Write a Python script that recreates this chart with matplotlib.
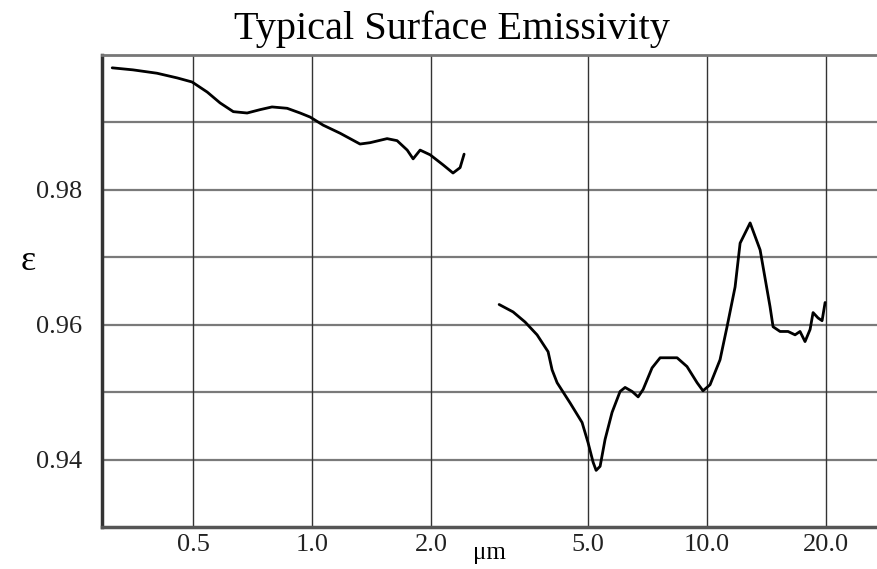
"""
Typical surface emissivity vs wavelength.
"""

import matplotlib.pyplot as plt
import numpy as np

# wavelength (um) and emissivity, short-wave segment
wl_short = [0.312, 0.352, 0.405, 0.456, 0.497, 0.543, 0.585, 0.632, 0.685, 0.739,
            0.792, 0.865, 0.933, 0.989, 1.067, 1.178, 1.323, 1.403, 1.549, 1.642,
            1.742, 1.803, 1.878, 1.991, 2.148, 2.275, 2.371, 2.427]
eps_short = [0.9981, 0.9978, 0.9973, 0.9966, 0.9960, 0.9945, 0.9929, 0.9916, 0.9914, 0.9919,
             0.9923, 0.9921, 0.9914, 0.9908, 0.9896, 0.9884, 0.9868, 0.9870, 0.9876, 0.9873,
             0.9859, 0.9846, 0.9859, 0.9852, 0.9837, 0.9825, 0.9833, 0.9853]

# long-wave segment
wl_long = [2.977, 3.229, 3.463, 3.714, 3.960, 4.054, 4.174, 4.502, 4.828, 5.0,
           5.149, 5.24, 5.363, 5.521, 5.75, 6.025, 6.204, 6.464, 6.694, 6.891,
           7.26, 7.61, 8.40, 8.90, 9.44, 9.77, 10.18, 10.79, 11.24, 11.78,
           12.13, 12.86, 13.63, 14.44, 14.70, 15.31, 16.04, 16.71, 17.20, 17.71,
           18.24, 18.56, 19.11, 19.56, 19.91]
eps_long = [0.9630, 0.9619, 0.9604, 0.9585, 0.9560, 0.9533, 0.9514, 0.9484, 0.9455, 0.9425,
            0.9396, 0.9384, 0.9390, 0.9430, 0.9470, 0.9501, 0.9507, 0.9501, 0.9493, 0.9504,
            0.9536, 0.9551, 0.9551, 0.9538, 0.9514, 0.9502, 0.9511, 0.9548, 0.9597, 0.9656,
            0.9721, 0.9751, 0.9711, 0.9627, 0.9597, 0.9590, 0.9590, 0.9585, 0.9590, 0.9575,
            0.9593, 0.9618, 0.9610, 0.9606, 0.9633]

x_ticks = [0.5, 1.0, 2.0, 5.0, 10.0, 20.0]
x_ticklabels = ["0.5", "1.0", "2.0", "5.0", "10.0", "20.0"]
y_grid = [0.94, 0.95, 0.96, 0.97, 0.98, 0.99]
y_labeled = [0.94, 0.96, 0.98]

plt.rcParams["font.family"] = ["Liberation Serif", "DejaVu Serif"]

fig = plt.figure(figsize=(8.78, 5.69), dpi=100)
ax = fig.add_axes([0.1162, 0.0738, 0.8838, 0.8295])

# grid
for yv in y_grid:
    ax.axhline(yv, color="#7a7a7a", lw=1.6, zorder=1)
for xv in x_ticks:
    ax.axvline(xv, color="#333333", lw=1.0, zorder=1)

# curves
for xs, ys in ((wl_short, eps_short), (wl_long, eps_long)):
    ax.plot(xs, ys, color="black", lw=2.0, zorder=3,
            solid_joinstyle="round", solid_capstyle="round")

ax.set_xscale("log")
ax.set_xlim(0.294, 27.1)
ax.set_ylim(0.93, 1.0)

ax.set_xticks(x_ticks)
ax.set_xticklabels(x_ticklabels)
ax.xaxis.set_minor_locator(plt.NullLocator())
ax.set_yticks(y_labeled)
ax.set_yticklabels([f"{v:.2f}" for v in y_labeled])
ax.tick_params(axis="both", length=0, labelsize=19, colors="#222222")
ax.tick_params(axis="y", pad=14)
ax.tick_params(axis="x", pad=5)

# frame
ax.spines["right"].set_visible(False)
ax.spines["left"].set_linewidth(2.5)
ax.spines["left"].set_color("#333333")
ax.spines["bottom"].set_linewidth(2.5)
ax.spines["bottom"].set_color("#555555")
ax.spines["top"].set_linewidth(2.0)
ax.spines["top"].set_color("#777777")

fig.text(0.558, 0.028, "\u03bcm", fontsize=18, ha="center", va="center")
fig.text(0.032, 0.54, "\u03b5", fontsize=26, ha="center", va="center")
fig.text(0.515, 0.948, "Typical Surface Emissivity", fontsize=29,
         ha="center", va="center")

fig.savefig("out.png", dpi=100)
